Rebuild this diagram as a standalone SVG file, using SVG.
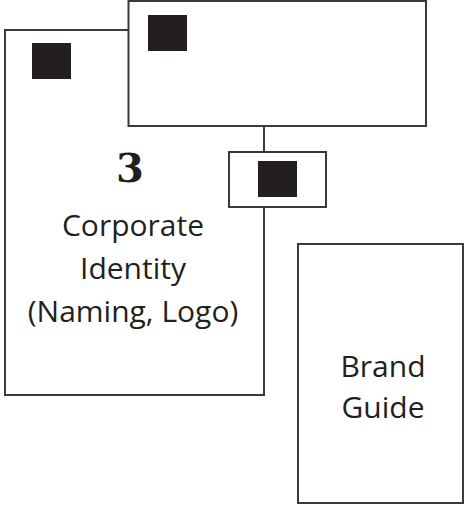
<svg xmlns="http://www.w3.org/2000/svg" width="475" height="508" viewBox="0 0 475 508">
<style>
.box{fill:#fff;stroke:#3a3a3a;stroke-width:2}
.sq{fill:#231f20}
.lbl{font-family:"Open Sans","Noto Sans",sans-serif;font-size:30px;fill:#231f20;text-anchor:middle}
.num{font-family:"DejaVu Serif","Liberation Serif",serif;font-weight:bold;font-size:40px;fill:#231f20;text-anchor:middle}
.conn{stroke:#3a3a3a;stroke-width:2;fill:none}
</style>
<rect width="475" height="508" fill="#fff"/>
<g id="corporate-identity">
<rect class="box" x="5" y="30" width="259" height="365"/>
<rect class="sq" x="32" y="43" width="39" height="36"/>
<text class="num" x="130" y="182">3</text>
<text class="lbl" x="133" y="236">Corporate</text>
<text class="lbl" x="133" y="279">Identity</text>
<text class="lbl" x="133" y="322">(Naming, Logo)</text>
</g>
<g id="connectors">
<line class="conn" x1="264" y1="126" x2="264" y2="152"/>
</g>
<g id="top-box">
<rect class="box" x="128.5" y="1" width="297.5" height="125"/>
<rect class="sq" x="148" y="15" width="39" height="36"/>
</g>
<g id="small-box">
<rect class="box" x="229" y="152" width="97" height="55"/>
<rect class="sq" x="258" y="161" width="39" height="36"/>
</g>
<g id="brand-guide">
<rect class="box" x="298" y="244" width="165" height="259"/>
<text class="lbl" x="383" y="377">Brand</text>
<text class="lbl" x="383" y="418">Guide</text>
</g>
</svg>
